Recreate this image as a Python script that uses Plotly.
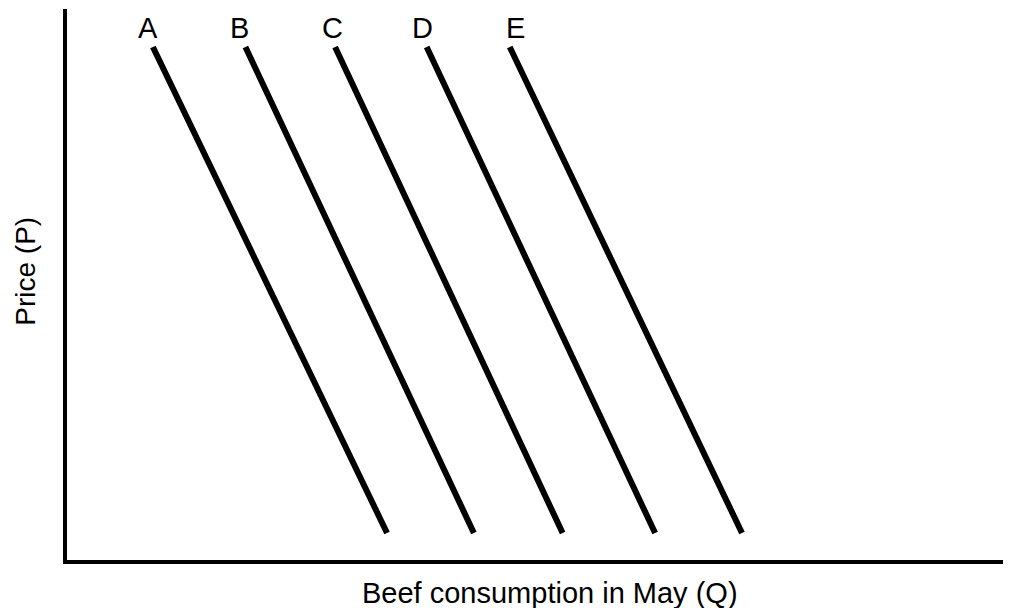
import plotly.graph_objects as go

# Demand curves (Q in arbitrary units 0-100, P in arbitrary units 0-100)
curve_names = ["A", "B", "C", "D", "E"]
q_top = [9.1, 18.9, 28.4, 38.1, 46.9]
q_bottom = [33.9, 43.1, 52.5, 62.3, 71.5]
p_top = 93.1
p_bottom = 4.9
label_p = 96.6
label_q = [8.6, 18.3, 28.1, 37.7, 47.5]

fig = go.Figure()
for name, qt, qb in zip(curve_names, q_top, q_bottom):
    fig.add_trace(go.Scatter(x=[qt, qb], y=[p_top, p_bottom], mode="lines",
                             line=dict(color="black", width=6), name=name,
                             showlegend=False, hoverinfo="skip"))

font = dict(family="Liberation Sans, Arial, sans-serif", color="black")
for name, lq in zip(curve_names, label_q):
    fig.add_annotation(x=lq, y=label_p, text=name, showarrow=False,
                       xanchor="center", yanchor="middle", font=dict(size=29, **font))

fig.add_annotation(xref="paper", yref="paper", x=0.512, y=-0.060,
                   text="Beef consumption in May (Q)", showarrow=False,
                   xanchor="center", yanchor="middle", font=dict(size=29, **font))
fig.add_annotation(xref="paper", yref="paper", x=-0.044, y=0.524,
                   text="Price (P)", showarrow=False, textangle=-90,
                   xanchor="center", yanchor="middle", font=dict(size=28, **font))

fig.update_xaxes(range=[0, 100], showgrid=False, zeroline=False, showticklabels=False,
                 ticks="", showline=True, linecolor="black", linewidth=4)
fig.update_yaxes(range=[0, 100], showgrid=False, zeroline=False, showticklabels=False,
                 ticks="", showline=True, linecolor="black", linewidth=4)
# page body has an 8px margin, so the figure is 1003x600 and offsets are compensated
fig.update_layout(width=1003, height=600, margin=dict(l=59, r=0, t=1, b=48),
                  plot_bgcolor="white", paper_bgcolor="white")
fig.write_html("out.html")
